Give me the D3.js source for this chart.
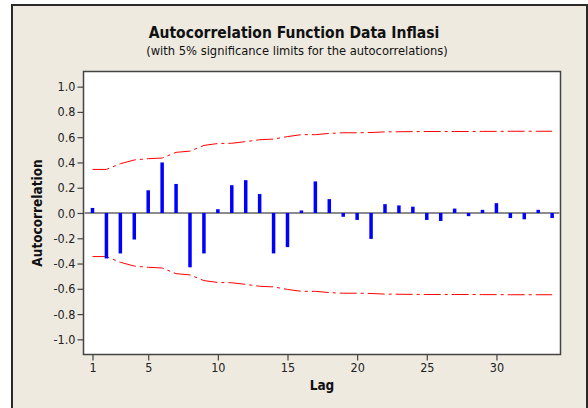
<!DOCTYPE html>
<html>
<head>
<meta charset="utf-8">
<script src="https://cdn.jsdelivr.net/npm/d3@7"></script>
<style>
  html, body { margin: 0; padding: 0; background: #fff; }
  svg { display: block; }
</style>
</head>
<body>
<div id="chart"></div>
<script>
const width = 588;
const height = 408;

// lags 1..34
const lags = d3.range(1, 35);
const acf = [0.04, -0.36, -0.32, -0.21, 0.18, 0.40, 0.23, -0.43, -0.32, 0.03,
  0.22, 0.26, 0.15, -0.32, -0.27, 0.02, 0.25, 0.11, -0.03, -0.055,
  -0.205, 0.07, 0.06, 0.05, -0.055, -0.063, 0.035, -0.025, 0.025, 0.078,
  -0.04, -0.05, 0.025, -0.04];
// upper 5% limit read per lag (lower one is the mirror)
const upperLimit = [0.345, 0.345, 0.39, 0.42, 0.43, 0.435, 0.48, 0.49, 0.535, 0.55,
  0.552, 0.565, 0.58, 0.585, 0.605, 0.62, 0.62, 0.63, 0.635, 0.635,
  0.637, 0.642, 0.643, 0.644, 0.645, 0.645, 0.645, 0.645, 0.646, 0.646,
  0.647, 0.647, 0.647, 0.647];
const xTicks = [1, 5, 10, 15, 20, 25, 30];
const yTicks = [1.0, 0.8, 0.6, 0.4, 0.2, 0.0, -0.2, -0.4, -0.6, -0.8, -1.0];

const title = 'Autocorrelation Function Data Inflasi';
const subtitle = '(with 5% significance limits for the autocorrelations)';

const font = '"DejaVu Sans Condensed", "DejaVu Sans", sans-serif';
const plot = { left: 83.5, top: 71.5, right: 560.5, bottom: 354.5 };

const x = d3.scaleLinear().domain([0.354, 34.6]).range([plot.left, plot.right]);
const y = d3.scaleLinear().domain([-1.12, 1.12]).range([plot.bottom, plot.top]);

const svg = d3.select('#chart')
  .append('svg')
  .attr('width', width)
  .attr('height', height)
  .style('font-family', font);

// outer frame
svg.append('rect')
  .attr('x', 12).attr('y', 5)
  .attr('width', 575).attr('height', 420)
  .attr('fill', '#eeeae0')
  .attr('stroke', '#2a2a2a')
  .attr('stroke-width', 2);

svg.append('text')
  .attr('x', 294).attr('y', 38)
  .attr('text-anchor', 'middle')
  .style('font-weight', 'bold')
  .style('font-size', '15.5px')
  .attr('fill', '#111')
  .text(title);

svg.append('text')
  .attr('x', 297).attr('y', 55)
  .attr('text-anchor', 'middle')
  .style('font-size', '12.8px')
  .attr('fill', '#111')
  .text(subtitle);

// plot area
svg.append('rect')
  .attr('x', plot.left).attr('y', plot.top)
  .attr('width', plot.right - plot.left)
  .attr('height', plot.bottom - plot.top)
  .attr('fill', '#fff')
  .attr('stroke', '#444')
  .attr('stroke-width', 1.5);

// axes
const yAxis = d3.axisLeft(y)
  .tickValues(yTicks)
  .tickFormat(d => d.toFixed(1))
  .tickSize(6)
  .tickPadding(2);

const gy = svg.append('g')
  .attr('transform', `translate(${plot.left},0)`)
  .call(yAxis);

const xAxis = d3.axisBottom(x)
  .tickValues(xTicks)
  .tickSize(6)
  .tickPadding(3);

const gx = svg.append('g')
  .attr('transform', `translate(0,${plot.bottom})`)
  .call(xAxis);

[gx, gy].forEach(g => {
  g.select('.domain').remove();
  g.selectAll('.tick line').attr('stroke', '#444').attr('stroke-width', 1.2);
  g.selectAll('.tick text')
    .attr('fill', '#222')
    .style('font-size', '12.5px')
    .style('font-family', font);
});

svg.append('text')
  .attr('transform', `translate(42,${(plot.top + plot.bottom) / 2}) rotate(-90)`)
  .attr('text-anchor', 'middle')
  .style('font-weight', 'bold')
  .style('font-size', '13.5px')
  .attr('fill', '#111')
  .text('Autocorrelation');

svg.append('text')
  .attr('x', (plot.left + plot.right) / 2).attr('y', 390)
  .attr('text-anchor', 'middle')
  .style('font-weight', 'bold')
  .style('font-size', '13.5px')
  .attr('fill', '#111')
  .text('Lag');

// zero reference
svg.append('line')
  .attr('x1', plot.left + 1).attr('x2', plot.right - 1)
  .attr('y1', y(0)).attr('y2', y(0))
  .attr('stroke', '#8c8c8c')
  .attr('stroke-width', 2);

// significance limits
const limitLine = d3.line()
  .x((d, i) => x(lags[i]))
  .y(d => y(d));

[upperLimit, upperLimit.map(v => -v)].forEach(series => {
  svg.append('path')
    .datum(series)
    .attr('d', limitLine)
    .attr('fill', 'none')
    .attr('stroke', '#ff0000')
    .attr('stroke-width', 1)
    .attr('stroke-dasharray', '17,4,3,4');
});

// acf bars
svg.append('g')
  .selectAll('line')
  .data(acf)
  .join('line')
  .attr('x1', (d, i) => x(lags[i]))
  .attr('x2', (d, i) => x(lags[i]))
  .attr('y1', y(0))
  .attr('y2', d => y(d))
  .attr('stroke', '#0000ff')
  .attr('stroke-width', 3.5);
</script>
</body>
</html>
